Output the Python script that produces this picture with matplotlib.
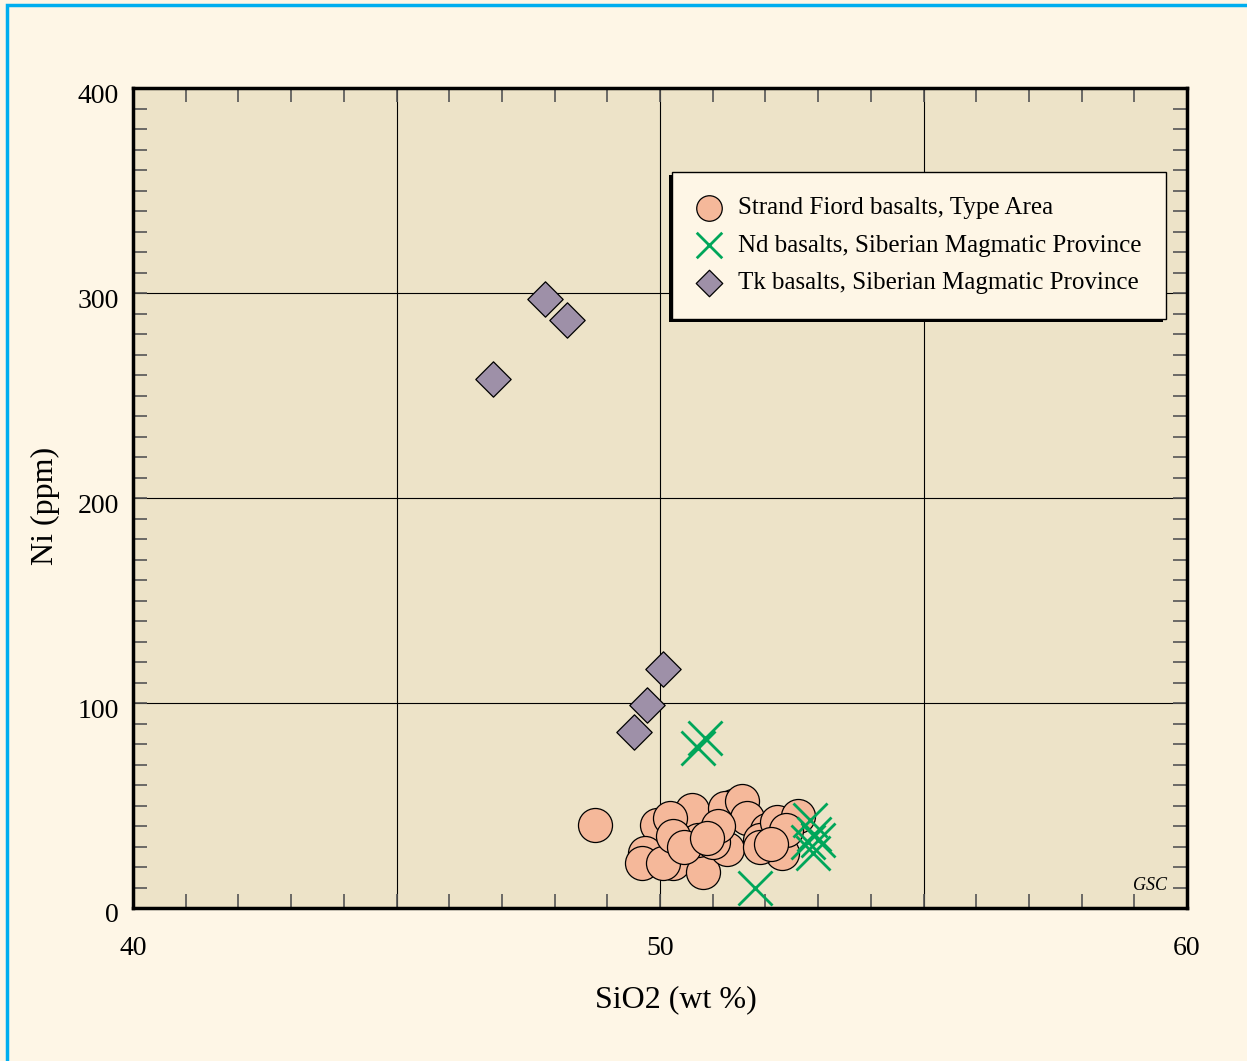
import numpy as np
import matplotlib
matplotlib.use("Agg")
import matplotlib.pyplot as plt
import matplotlib.transforms as mtrans
from matplotlib.patches import Rectangle

plt.rcParams['font.family'] = ['Liberation Serif', 'DejaVu Serif']

# Strand Fiord basalts, Type Area
sf_sio2 = [48.77, 49.94, 49.71, 49.66, 50.25, 50.82, 50.61, 50.72, 51.27, 51.39,
           51.23, 51.55, 51.65, 52.03, 51.90, 52.31, 52.22, 52.62, 50.19, 50.06,
           50.25, 51.00, 51.90, 52.40, 50.45, 51.10, 50.90, 52.10]
sf_ni = [40.5, 40.5, 27, 22, 22, 17.5, 48, 33, 29, 50,
         49, 52, 44, 38, 33, 27, 42, 45, 44, 22,
         35, 32, 30, 38, 30, 40, 34, 31]

# Nd basalts, Siberian Magmatic Province
nd_sio2 = [50.72, 50.85, 51.80, 52.85, 52.80, 52.90, 53.00, 52.92]
nd_ni = [78, 83, 10, 43, 32, 27, 33, 36]

# Tk basalts, Siberian Magmatic Province
tk_sio2 = [47.82, 48.24, 46.83, 50.06, 49.75, 49.51]
tk_ni = [297, 287, 258, 116.6, 99, 86]

fig = plt.figure(figsize=(12.47, 10.61), dpi=100, facecolor='#fef6e6')
ax = fig.add_axes([133/1247, 1 - 908/1061, 1054/1247, 820/1061])
ax.set_facecolor('#ede3c8')

# blue page border
fig.patches.append(Rectangle((7/1247, -0.05), 1.2, 1 - 5/1061 + 0.05,
                             transform=fig.transFigure, fill=False,
                             edgecolor='#00aeef', linewidth=2.5))

ax.scatter(sf_sio2, sf_ni, s=24.5**2, marker='o', facecolor='#f5b89a',
           edgecolor='black', linewidth=0.9, zorder=3,
           label='Strand Fiord basalts, Type Area')
ax.scatter(nd_sio2, nd_ni, s=24.5**2, marker='x', color='#00a65a',
           linewidth=2.0, zorder=4, label='Nd basalts, Siberian Magmatic Province')
ax.scatter(tk_sio2, tk_ni, s=18**2, marker='D', facecolor='#9e90a8',
           edgecolor='black', linewidth=0.9, zorder=3,
           label='Tk basalts, Siberian Magmatic Province')

ax.set_xlim(40, 60)
ax.set_ylim(0, 400)
ax.set_xticks([40, 45, 50, 55, 60])
ax.set_xticklabels(['40', '', '50', '', '60'])
ax.set_xticks(np.arange(40, 61, 1), minor=True)
ax.set_yticks([0, 100, 200, 300, 400])
ax.set_yticks(np.arange(0, 401, 10), minor=True)
ax.grid(True, which='major', color='black', linewidth=0.8, zorder=1)
ax.set_axisbelow(True)

ax.tick_params(which='both', direction='in', top=True, right=True,
               color='#555555', width=1.2, labelsize=20, length=10)
ax.tick_params(axis='x', pad=20)
ax.tick_params(axis='y', pad=10)
shift = mtrans.ScaledTranslation(0, -5/100, fig.dpi_scale_trans)
for lab in ax.get_yticklabels():
    lab.set_transform(lab.get_transform() + shift)
for sp in ax.spines.values():
    sp.set_linewidth(2.5)
    sp.set_color('black')

ax.set_xlabel('SiO2 (wt %)', fontsize=23)
ax.xaxis.set_label_coords(0.515, -0.094)
ax.set_ylabel('Ni (ppm)', fontsize=23)
ax.yaxis.set_label_coords(-0.069, 0.49)

ax.text(0.981, 0.028, 'GSC', transform=ax.transAxes, fontsize=13,
        style='italic', ha='right', va='center')

leg = ax.legend(loc='upper left', bbox_to_anchor=(0.511, 0.898), fontsize=18,
                markerscale=0.75, frameon=True, fancybox=False,
                framealpha=1, facecolor='#fef6e6', edgecolor='black',
                borderpad=1.0, labelspacing=0.6, handletextpad=0.65,
                handlelength=1.0, borderaxespad=0)
leg.get_frame().set_linewidth(1.0)
leg.set_zorder(6)

# legend drop shadow (left/bottom)
fig.canvas.draw()
bb = leg.get_window_extent()
shadow = Rectangle((bb.x0 - 3, bb.y0 - 3), bb.width, bb.height,
                   transform=None, facecolor='black', edgecolor='none', zorder=5)
ax.add_artist(shadow)

fig.savefig('out.png', dpi=100, facecolor=fig.get_facecolor())
